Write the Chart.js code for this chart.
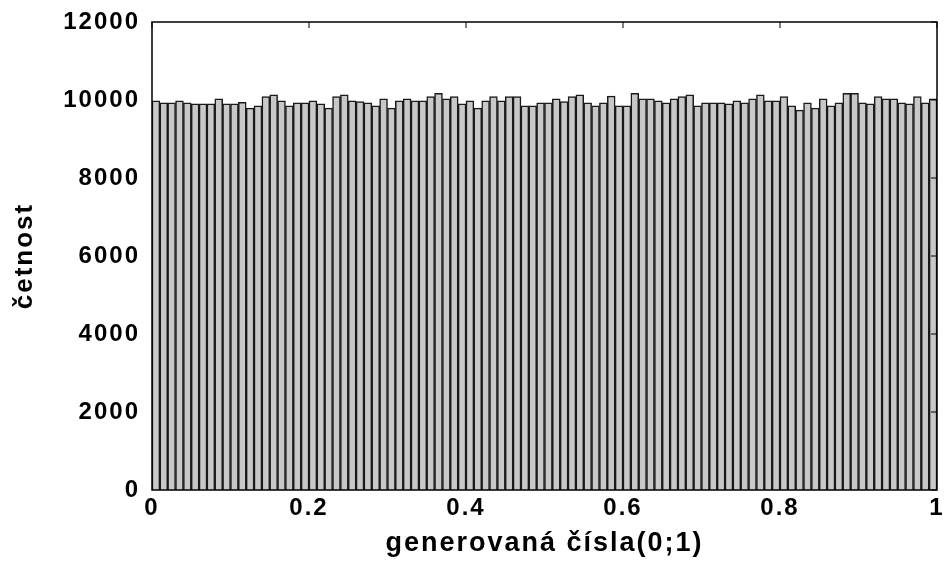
<!DOCTYPE html>
<html>
<head>
<meta charset="utf-8">
<script src="https://cdn.jsdelivr.net/npm/chart.js@4"></script>
<style>
  html, body { margin: 0; padding: 0; background: #fff; }
  #wrap { width: 944px; height: 561px; }
</style>
</head>
<body>
<div id="wrap"><canvas id="chartHist" width="944" height="561"></canvas></div>
<script>
// histogram of 100 bins over (0;1)
const binWidth = 0.01;
const counts = [
  9980, 9930, 9930, 9980, 9930, 9900, 9900, 9900, 10030, 9900,
  9900, 9940, 9790, 9850, 10090, 10130, 9980, 9850, 9930, 9930,
  9980, 9900, 9790, 10090, 10130, 9980, 9960, 9930, 9850, 10030,
  9790, 9980, 10030, 9980, 9980, 10090, 10170, 10030, 10090, 9900,
  9980, 9790, 9980, 10090, 9980, 10090, 10090, 9850, 9850, 9930,
  9930, 10030, 9960, 10090, 10130, 9930, 9850, 9930, 10100, 9850,
  9850, 10170, 10030, 10030, 9980, 9930, 10030, 10090, 10130, 9850,
  9930, 9930, 9930, 9900, 9980, 9930, 10030, 10130, 9980, 9980,
  10090, 9850, 9740, 9930, 9790, 10030, 9850, 9930, 10170, 10170,
  9930, 9900, 10090, 10030, 10030, 9930, 9900, 10090, 9930, 10030
];
const xTicks = [0, 0.2, 0.4, 0.6, 0.8, 1];
const yTicks = [0, 2000, 4000, 6000, 8000, 10000, 12000];

const points = counts.map((c, i) => ({ x: +(binWidth / 2 + i * binWidth).toFixed(3), y: c }));

const tickFont = { family: 'Liberation Sans, Arial, sans-serif', size: 24, weight: 'bold' };
const titleFont = { family: 'Liberation Sans, Arial, sans-serif', size: 27, weight: 'bold' };

// the original text is a bit wider than Arial, spread the letters a little
const spacingPlugin = {
  id: 'spacing',
  beforeUpdate(chart) { chart.ctx.letterSpacing = '2px'; },
  beforeDraw(chart) { chart.ctx.letterSpacing = '2px'; }
};

// frame round the plot area with small inward ticks
const framePlugin = {
  id: 'frame',
  afterDraw(chart) {
    const { ctx, chartArea: a, scales } = chart;
    ctx.save();
    ctx.strokeStyle = '#000';
    ctx.lineWidth = 1.5;
    ctx.strokeRect(a.left, a.top, a.right - a.left, a.bottom - a.top);
    ctx.lineWidth = 1;
    xTicks.forEach(v => {
      const px = scales.x.getPixelForValue(v);
      ctx.beginPath();
      ctx.moveTo(px, a.top);
      ctx.lineTo(px, a.top + 6);
      ctx.stroke();
    });
    yTicks.forEach(v => {
      const py = scales.y.getPixelForValue(v);
      ctx.beginPath();
      ctx.moveTo(a.right, py);
      ctx.lineTo(a.right - 6, py);
      ctx.stroke();
    });
    ctx.restore();
  }
};

new Chart(document.getElementById('chartHist'), {
  type: 'bar',
  data: {
    datasets: [{
      data: points,
      backgroundColor: '#c8c8c8',
      borderColor: '#1a1a1a',
      borderWidth: 1.5,
      barPercentage: 1,
      categoryPercentage: 1
    }]
  },
  options: {
    responsive: false,
    animation: false,
    layout: { padding: { top: 22, right: 7, left: 0, bottom: 0 } },
    plugins: { legend: { display: false }, tooltip: { enabled: false } },
    scales: {
      x: {
        type: 'linear',
        offset: false,
        min: 0,
        max: 1,
        afterFit(s) { s.height = 71; s.paddingLeft = 0; s.paddingRight = 0; },
        afterBuildTicks(s) { s.ticks = xTicks.map(v => ({ value: v })); },
        grid: { display: false, drawTicks: false },
        border: { display: false },
        ticks: {
          color: '#000',
          font: tickFont,
          padding: 4,
          maxRotation: 0,
          callback: v => String(v)
        },
        title: {
          display: true,
          text: 'generovaná čísla(0;1)',
          color: '#000',
          font: titleFont,
          padding: { top: 4, bottom: 1 }
        }
      },
      y: {
        min: 0,
        max: 12000,
        afterFit(s) { s.width = 152; s.paddingTop = 0; s.paddingBottom = 0; },
        afterBuildTicks(s) { s.ticks = yTicks.map(v => ({ value: v })); },
        grid: { display: false, drawTicks: false },
        border: { display: false },
        ticks: {
          color: '#000',
          font: tickFont,
          padding: 12,
          callback: v => String(v)
        },
        title: {
          display: true,
          text: 'četnost',
          color: '#000',
          font: { family: 'Liberation Sans, Arial, sans-serif', size: 26, weight: 'bold' },
          padding: { top: 9, bottom: 0 }
        }
      }
    }
  },
  plugins: [spacingPlugin, framePlugin]
});
</script>
</body>
</html>
